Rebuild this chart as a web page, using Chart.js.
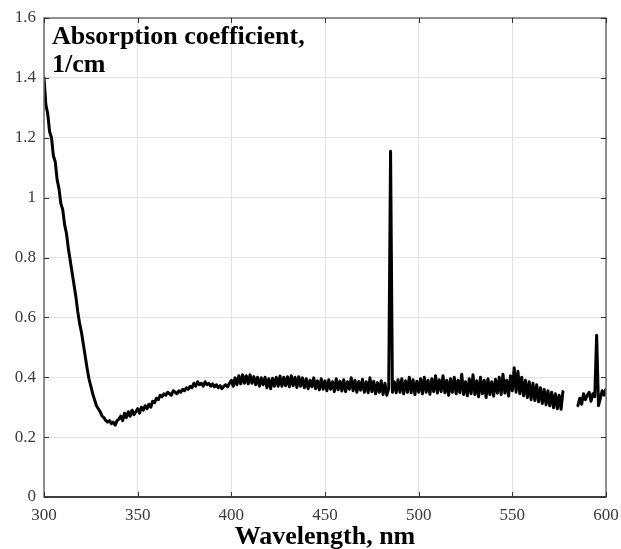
<!DOCTYPE html>
<html lang="en">

<head>
    <meta charset="UTF-8">
    <title>Absorption coefficient</title>
    <script src="https://cdn.jsdelivr.net/npm/chart.js@4.4.0/dist/chart.umd.min.js"></script>
    <style>
        body { margin: 0; background: #fff; }
    </style>
</head>

<body>
    <canvas id="myChart" width="621" height="549"></canvas>

    <script>
        // wavelength grid of the spectrometer: 300..600 nm, 1 nm step
        const startNm = 300
        const stepNm = 1

        // absorption coefficient, 1/cm (null = no data)
        const absorption = [
            1.40, 1.31, 1.28, 1.22, 1.20, 1.14, 1.12, 1.06, 1.03, 0.98,
            0.96, 0.91, 0.88, 0.83, 0.79, 0.75, 0.71, 0.67, 0.62, 0.58,
            0.55, 0.51, 0.47, 0.43, 0.395, 0.37, 0.345, 0.325, 0.305, 0.295,
            0.285, 0.27, 0.265, 0.255, 0.25, 0.255, 0.245, 0.25, 0.24, 0.255,
            0.26, 0.27, 0.255, 0.28, 0.265, 0.285, 0.27, 0.29, 0.275, 0.285,
            0.295, 0.28, 0.30, 0.29, 0.305, 0.295, 0.31, 0.30, 0.32, 0.315,
            0.33, 0.325, 0.34, 0.335, 0.345, 0.34, 0.35, 0.345, 0.34, 0.355,
            0.35, 0.345, 0.355, 0.35, 0.36, 0.355, 0.365, 0.36, 0.37, 0.365,
            0.38, 0.37, 0.385, 0.375, 0.38, 0.37, 0.385, 0.375, 0.38, 0.37,
            0.378, 0.368, 0.375, 0.365, 0.372, 0.362, 0.37, 0.375, 0.368, 0.38,
            0.39, 0.37, 0.398, 0.375, 0.405, 0.378, 0.408, 0.38, 0.405, 0.378,
            0.408, 0.38, 0.402, 0.375, 0.40, 0.37, 0.398, 0.375, 0.40, 0.365,
            0.395, 0.362, 0.397, 0.37, 0.40, 0.37, 0.404, 0.37, 0.40, 0.372,
            0.402, 0.368, 0.405, 0.372, 0.40, 0.366, 0.402, 0.37, 0.398, 0.365,
            0.395, 0.362, 0.39, 0.368, 0.398, 0.362, 0.388, 0.358, 0.395, 0.36,
            0.388, 0.355, 0.392, 0.36, 0.385, 0.352, 0.395, 0.358, 0.387, 0.354,
            0.392, 0.352, 0.385, 0.36, 0.398, 0.355, 0.39, 0.35, 0.386, 0.357,
            0.393, 0.35, 0.385, 0.348, 0.398, 0.352, 0.387, 0.345, 0.382, 0.35,
            0.388, 0.342, 0.38, 0.34, 0.362, 1.155, 0.35, 0.385, 0.348, 0.392,
            0.35, 0.395, 0.345, 0.388, 0.35, 0.40, 0.348, 0.392, 0.342, 0.387,
            0.35, 0.395, 0.345, 0.40, 0.35, 0.39, 0.343, 0.395, 0.352, 0.405,
            0.347, 0.392, 0.352, 0.405, 0.348, 0.39, 0.34, 0.395, 0.35, 0.40,
            0.345, 0.39, 0.348, 0.41, 0.342, 0.385, 0.338, 0.395, 0.345, 0.408,
            0.342, 0.388, 0.335, 0.40, 0.345, 0.39, 0.332, 0.395, 0.342, 0.385,
            0.337, 0.393, 0.347, 0.40, 0.342, 0.41, 0.347, 0.39, 0.337, 0.405,
            0.355, 0.432, 0.35, 0.42, 0.345, 0.40, 0.338, 0.39, 0.332, 0.385,
            0.325, 0.38, 0.322, 0.375, 0.318, 0.365, 0.312, 0.36, 0.308, 0.355,
            0.305, 0.35, 0.298, 0.345, 0.295, 0.34, 0.293, 0.352, null, null,
            null, null, null, null, null, 0.305, 0.33, 0.31, 0.345, 0.325,
            0.34, 0.35, 0.32, 0.345, 0.335, 0.54, 0.305, 0.33, 0.355, 0.34,
            0.36, 0.37
        ]

        const wavelengths = absorption.map((v, i) => startNm + i * stepNm)

        const xTicks = [300, 350, 400, 450, 500, 550, 600]
        const yTicks = [0, 0.2, 0.4, 0.6, 0.8, 1, 1.2, 1.4, 1.6]

        const yTitle = ['Absorption coefficient,', '1/cm']
        const xTitle = 'Wavelength, nm'

        const points = wavelengths.map((w, i) => ({ x: w, y: absorption[i] }))

        // box around the plot + inward tick marks + label inside the plot
        const frame = {
            id: 'frame',
            afterDraw(chart) {
                const ctx = chart.ctx
                const a = chart.chartArea
                const xs = chart.scales.x
                const ys = chart.scales.y
                ctx.save()
                ctx.strokeStyle = '#6e6e6e'
                ctx.lineWidth = 1.5
                ctx.strokeRect(a.left, a.top, a.right - a.left, a.bottom - a.top)
                ctx.strokeStyle = '#262626'
                ctx.beginPath()
                ctx.moveTo(a.left, a.bottom)
                ctx.lineTo(a.right, a.bottom)
                ctx.stroke()
                ctx.lineWidth = 1
                ctx.strokeStyle = '#333'
                ctx.beginPath()
                xTicks.forEach(t => {
                    const px = Math.round(xs.getPixelForValue(t)) + 0.5
                    ctx.moveTo(px, a.bottom); ctx.lineTo(px, a.bottom - 5)
                    ctx.moveTo(px, a.top); ctx.lineTo(px, a.top + 5)
                })
                yTicks.forEach(t => {
                    const py = Math.round(ys.getPixelForValue(t)) + 0.5
                    ctx.moveTo(a.left, py); ctx.lineTo(a.left + 5, py)
                    ctx.moveTo(a.right, py); ctx.lineTo(a.right - 5, py)
                })
                ctx.stroke()

                ctx.fillStyle = '#000'
                ctx.font = 'bold 26px "Liberation Serif"'
                ctx.textBaseline = 'alphabetic'
                ctx.textAlign = 'left'
                ctx.fillText(yTitle[0], a.left + 8, 44)
                ctx.fillText(yTitle[1], a.left + 8, 72)

                ctx.textAlign = 'center'
                ctx.fillText(xTitle, (a.left + a.right) / 2, 544)
                ctx.restore()
            }
        }

        const ctx = document.getElementById('myChart').getContext('2d')
        const myChart = new Chart(ctx, {
            type: 'line',
            data: {
                datasets: [{
                    data: points,
                    borderColor: '#000',
                    borderWidth: 3,
                    borderJoinStyle: 'round',
                    borderCapStyle: 'round',
                    pointRadius: 0,
                    tension: 0,
                    spanGaps: false
                }]
            },
            options: {
                responsive: false,
                animation: false,
                parsing: false,
                layout: { padding: { top: 18, right: 15, left: 0, bottom: 0 } },
                plugins: {
                    legend: { display: false },
                    tooltip: { enabled: false }
                },
                scales: {
                    x: {
                        type: 'linear',
                        min: 300,
                        max: 600,
                        afterBuildTicks: s => { s.ticks = xTicks.map(v => ({ value: v })) },
                        afterFit: s => { s.height = 52; s.paddingLeft = 0; s.paddingRight = 0 },
                        grid: { color: '#e3e3e3', drawTicks: false },
                        border: { display: false },
                        ticks: {
                            padding: 8,
                            color: '#3a3a3a',
                            font: { family: 'Liberation Serif', size: 17 },
                            maxRotation: 0
                        }
                    },
                    y: {
                        min: 0,
                        max: 1.6,
                        afterBuildTicks: s => { s.ticks = yTicks.map(v => ({ value: v })) },
                        afterFit: s => { s.width = 44; s.paddingTop = 0; s.paddingBottom = 0 },
                        grid: { color: '#e3e3e3', drawTicks: false },
                        border: { display: false },
                        ticks: {
                            padding: 8,
                            color: '#3a3a3a',
                            font: { family: 'Liberation Serif', size: 17 },
                            callback: v => String(+v.toFixed(1))
                        }
                    }
                }
            },
            plugins: [frame]
        })
    </script>
</body>

</html>
